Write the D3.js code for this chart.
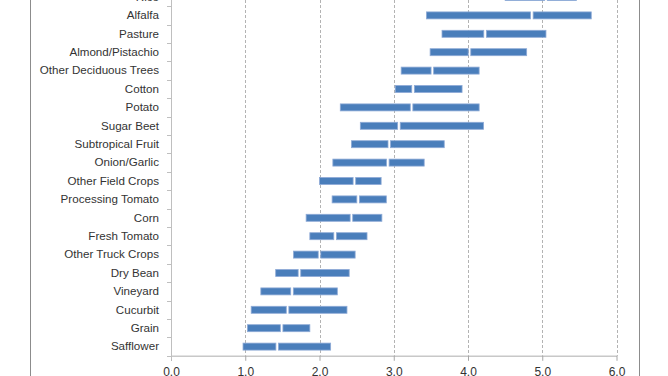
<!DOCTYPE html>
<html>
<head>
<meta charset="utf-8">
<script src="https://cdn.jsdelivr.net/npm/d3@7"></script>
<style>
  body { margin: 0; background: #fff; }
  svg { display: block; font-family: "Liberation Sans", Arial, sans-serif; }
</style>
</head>
<body>
<div id="chart"></div>
<script>
// Crop categories, top to bottom
const categories = ["Rice", "Alfalfa", "Pasture", "Almond/Pistachio", "Other Deciduous Trees",
  "Cotton", "Potato", "Sugar Beet", "Subtropical Fruit", "Onion/Garlic", "Other Field Crops",
  "Processing Tomato", "Corn", "Fresh Tomato", "Other Truck Crops", "Dry Bean", "Vineyard",
  "Cucurbit", "Grain", "Safflower"];

// Range of each bar: low end, middle break, high end
const minVals = [4.50, 3.44, 3.65, 3.49, 3.10, 3.02, 2.28, 2.55, 2.43, 2.18, 2.00, 2.17, 1.82, 1.87, 1.65, 1.41, 1.21, 1.08, 1.03, 0.97];
const medVals = [5.05, 4.86, 4.23, 4.02, 3.52, 3.26, 3.24, 3.07, 2.94, 2.92, 2.47, 2.52, 2.43, 2.21, 2.00, 1.73, 1.63, 1.57, 1.49, 1.43];
const maxVals = [5.46, 5.66, 5.05, 4.79, 4.15, 3.92, 4.15, 4.21, 3.68, 3.41, 2.83, 2.90, 2.84, 2.64, 2.48, 2.40, 2.24, 2.37, 1.87, 2.15];

const xTicks = [0, 1, 2, 3, 4, 5, 6];

const data = categories.map((c, i) => ({ cat: c, lo: minVals[i], mid: medVals[i], hi: maxVals[i] }));

const W = 668, H = 376;
// plot area; its top lies above the picture, as in the cropped original
const plot = { left: 171, right: 616.5, top: -12.2, bottom: 355.8 };

const svg = d3.select("#chart").append("svg")
  .attr("width", W)
  .attr("height", H);

// outer frame lines (chart area border, top cut off)
svg.append("line").attr("x1", 30.5).attr("x2", 30.5).attr("y1", 0).attr("y2", H)
  .attr("stroke", "#8c8c8c").attr("stroke-width", 1);
svg.append("line").attr("x1", 639.5).attr("x2", 639.5).attr("y1", 0).attr("y2", H)
  .attr("stroke", "#8c8c8c").attr("stroke-width", 1);

const x = d3.scaleLinear().domain([0, 6]).range([plot.left, plot.right]);
const y = d3.scaleBand().domain(categories).range([plot.top, plot.bottom]).padding(0);

// dashed gridlines
svg.append("g")
  .selectAll("line")
  .data(xTicks.filter(d => d > 0))
  .enter().append("line")
  .attr("x1", d => Math.round(x(d)) + 0.5)
  .attr("x2", d => Math.round(x(d)) + 0.5)
  .attr("y1", 0)
  .attr("y2", plot.bottom)
  .attr("stroke", "#b3b3b3")
  .attr("stroke-dasharray", "3,2");

// x axis
const xAxis = d3.axisBottom(x).tickValues(xTicks).tickFormat(d3.format(".1f")).tickSize(5).tickSizeOuter(0);
const gx = svg.append("g")
  .attr("transform", "translate(0," + plot.bottom + ")")
  .call(xAxis);
gx.select(".domain").attr("stroke", "#c8c8c8").attr("stroke-width", 1.5);
gx.selectAll(".tick line").attr("stroke", "#a6a6a6");
gx.selectAll(".tick text")
  .attr("font-size", "12px")
  .attr("fill", "#333")
  .attr("y", 12)
  .attr("dy", "0.71em");

// y axis: labels at band centres, ticks between bands
const yAxis = d3.axisLeft(y).tickSize(0).tickPadding(12);
const gy = svg.append("g")
  .attr("transform", "translate(" + plot.left + ",0)")
  .call(yAxis);
gy.select(".domain").remove();
gy.selectAll(".tick text")
  .attr("font-size", "11.6px")
  .attr("fill", "#333");

svg.append("line")
  .attr("x1", plot.left + 0.5).attr("x2", plot.left + 0.5)
  .attr("y1", 0).attr("y2", plot.bottom + 4)
  .attr("stroke", "#bfbfbf");

const bounds = categories.map(c => y(c)).concat([plot.bottom]);
svg.append("g")
  .selectAll("line")
  .data(bounds)
  .enter().append("line")
  .attr("x1", plot.left - 4)
  .attr("x2", plot.left)
  .attr("y1", d => Math.round(d) + 0.5)
  .attr("y2", d => Math.round(d) + 0.5)
  .attr("stroke", "#bfbfbf");

// range bars, split at the middle value
const barH = 7;
const gap = 1.3;
const bars = svg.append("g");
bars.selectAll("rect.low")
  .data(data)
  .enter().append("rect")
  .attr("class", "low")
  .attr("x", d => x(d.lo))
  .attr("y", d => y(d.cat) + y.bandwidth() / 2 - barH / 2)
  .attr("width", d => x(d.mid) - x(d.lo) - gap)
  .attr("height", barH)
  .attr("fill", "#4a7ebb")
  .attr("stroke", "#8eaad6")
  .attr("stroke-width", 0.8);

bars.selectAll("rect.high")
  .data(data)
  .enter().append("rect")
  .attr("class", "high")
  .attr("x", d => x(d.mid) + gap)
  .attr("y", d => y(d.cat) + y.bandwidth() / 2 - barH / 2)
  .attr("width", d => x(d.hi) - x(d.mid) - gap)
  .attr("height", barH)
  .attr("fill", "#4a7ebb")
  .attr("stroke", "#8eaad6")
  .attr("stroke-width", 0.8);
</script>
</body>
</html>
